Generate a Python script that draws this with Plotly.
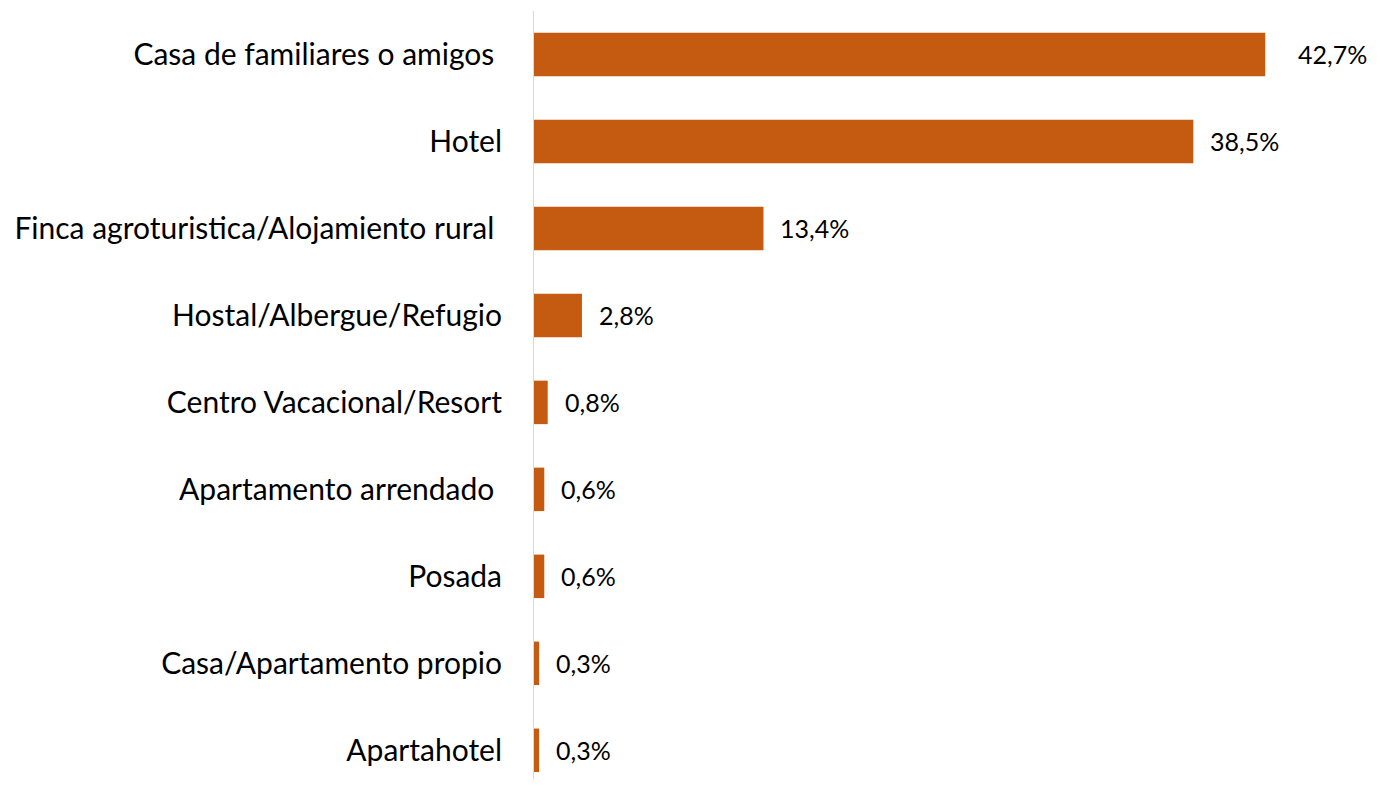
import plotly.graph_objects as go

categorias = [
    "Casa de familiares o amigos\u00a0",
    "Hotel",
    "Finca agroturistica/Alojamiento rural\u00a0",
    "Hostal/Albergue/Refugio",
    "Centro Vacacional/Resort",
    "Apartamento arrendado\u00a0",
    "Posada",
    "Casa/Apartamento propio",
    "Apartahotel",
]
porcentajes = [42.7, 38.5, 13.4, 2.8, 0.8, 0.6, 0.6, 0.3, 0.3]

fig = go.Figure(go.Bar(
    x=porcentajes,
    y=categorias,
    orientation='h',
    marker=dict(color='#C55A11', line=dict(width=0)),
    hoverinfo='skip',
))

for i, (cat, val) in enumerate(zip(categorias, porcentajes)):
    fig.add_annotation(
        x=val, y=cat,
        text=f"{val:.1f}%".replace('.', ','),
        showarrow=False,
        xanchor='left',
        xshift=31 if i == 0 else 15,
        font=dict(size=25, color='#000000'),
    )

# page has an 8px body margin, so the figure is sized to fit inside it
fig.update_layout(
    width=1361, height=771,
    margin=dict(l=526, r=13, t=3, b=0),
    paper_bgcolor='white',
    plot_bgcolor='white',
    font=dict(family='Lato, Carlito, sans-serif', size=30, color='#000000'),
    bargap=0.5,
    showlegend=False,
    xaxis=dict(range=[0, 48], showgrid=False, zeroline=False,
               showticklabels=False, showline=False),
    yaxis=dict(range=[8.33, -0.5], showgrid=False, zeroline=False,
               showline=True, linecolor='#D9D9D9', linewidth=1,
               ticks='', ticklabelstandoff=25),
)

fig.write_html("out.html")
